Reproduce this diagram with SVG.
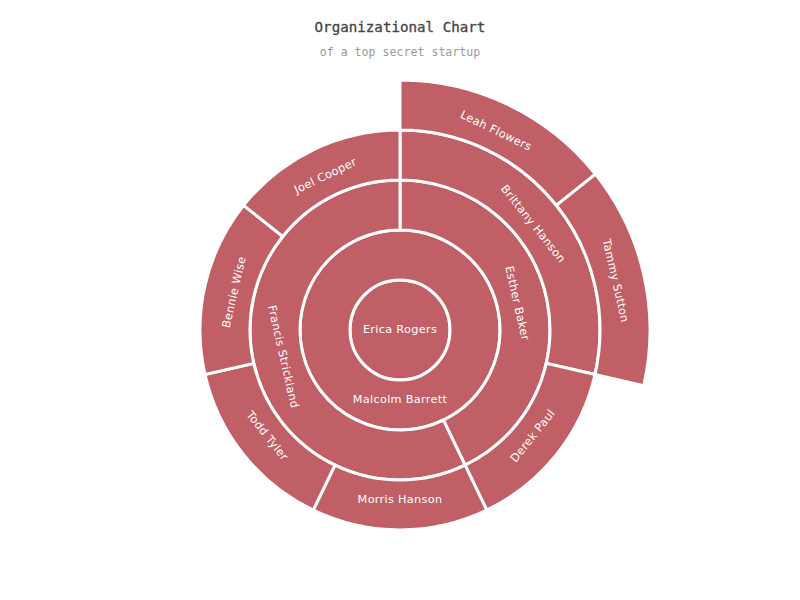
<svg xmlns="http://www.w3.org/2000/svg" width="800" height="600" viewBox="0 0 800 600">
<style>
.seg{fill:#c15f66;stroke:#ffffff;stroke-width:3;stroke-linejoin:miter}
.lbl{font-family:"DejaVu Sans",sans-serif;font-size:11.3px;letter-spacing:0.3px;fill:#ffffff;text-anchor:middle;dominant-baseline:central}
.title{font-family:"DejaVu Sans Mono",monospace;font-size:14.2px;fill:#444444;stroke:#444444;stroke-width:0.3;text-anchor:middle}
.sub{font-family:"DejaVu Sans Mono",monospace;font-size:11.6px;fill:#999999;text-anchor:middle}
</style>
<rect width="800" height="600" fill="#ffffff"/>
<text class="title" x="400" y="32">Organizational Chart</text>
<text class="sub" x="400" y="56">of a top secret startup</text>
<g id="connectors"></g>
<g id="erica-rogers">
<circle class="seg" cx="400" cy="330" r="50"/>
<text class="lbl" x="400" y="329">Erica Rogers</text>
</g>
<g id="malcolm-barrett">
<path class="seg" fill-rule="evenodd" d="M400,230 A100,100 0 1 1 400,430 A100,100 0 1 1 400,230 Z M400,280 A50,50 0 1 0 400,380 A50,50 0 1 0 400,280 Z"/>
<text class="lbl" x="400" y="399.5">Malcolm Barrett</text>
</g>
<g id="esther-baker">
<path class="seg" d="M400,180 A150,150 0 0 1 465.08,465.15 L443.39,420.10 A100,100 0 0 0 400,230 Z"/>
<text class="lbl" transform="translate(516.99,303.3) rotate(77.14)">Esther Baker</text>
</g>
<g id="francis-strickland">
<path class="seg" d="M465.08,465.15 A150,150 0 1 1 400,180 L400,230 A100,100 0 1 0 443.39,420.10 Z"/>
<text class="lbl" transform="translate(283.01,356.7) rotate(77.14)">Francis Strickland</text>
</g>
<g id="brittany-hanson">
<path class="seg" d="M400,130 A200,200 0 0 1 594.99,374.50 L546.24,363.38 A150,150 0 0 0 400,180 Z"/>
<text class="lbl" transform="translate(532.91,224.01) rotate(51.43)">Brittany Hanson</text>
</g>
<g id="derek-paul">
<path class="seg" d="M594.99,374.50 A200,200 0 0 1 486.78,510.19 L465.08,465.15 A150,150 0 0 0 546.24,363.38 Z"/>
<text class="lbl" transform="translate(532.91,435.99) rotate(-51.43)">Derek Paul</text>
</g>
<g id="morris-hanson">
<path class="seg" d="M486.78,510.19 A200,200 0 0 1 313.22,510.19 L334.92,465.15 A150,150 0 0 0 465.08,465.15 Z"/>
<text class="lbl" x="400" y="499.5">Morris Hanson</text>
</g>
<g id="todd-tyler">
<path class="seg" d="M313.22,510.19 A200,200 0 0 1 205.01,374.50 L253.76,363.38 A150,150 0 0 0 334.92,465.15 Z"/>
<text class="lbl" transform="translate(267.09,435.99) rotate(51.43)">Todd Tyler</text>
</g>
<g id="bennie-wise">
<path class="seg" d="M205.01,374.50 A200,200 0 0 1 243.63,205.30 L282.73,236.48 A150,150 0 0 0 253.76,363.38 Z"/>
<text class="lbl" transform="translate(234.26,292.17) rotate(-77.14)">Bennie Wise</text>
</g>
<g id="joel-cooper">
<path class="seg" d="M243.63,205.30 A200,200 0 0 1 400,130 L400,180 A150,150 0 0 0 282.73,236.48 Z"/>
<text class="lbl" transform="translate(325.5,176) rotate(-25.71)">Joel Cooper</text>
</g>
<g id="leah-flowers">
<path class="seg" d="M400,80 A250,250 0 0 1 595.46,174.13 L556.37,205.30 A200,200 0 0 0 400,130 Z"/>
<text class="lbl" transform="translate(495.89,130.89) rotate(25.71)">Leah Flowers</text>
</g>
<g id="tammy-sutton">
<path class="seg" d="M595.46,174.13 A250,250 0 0 1 643.73,385.63 L594.99,374.50 A200,200 0 0 0 556.37,205.30 Z"/>
<text class="lbl" transform="translate(615.46,280.82) rotate(77.14)">Tammy Sutton</text>
</g>
</svg>
